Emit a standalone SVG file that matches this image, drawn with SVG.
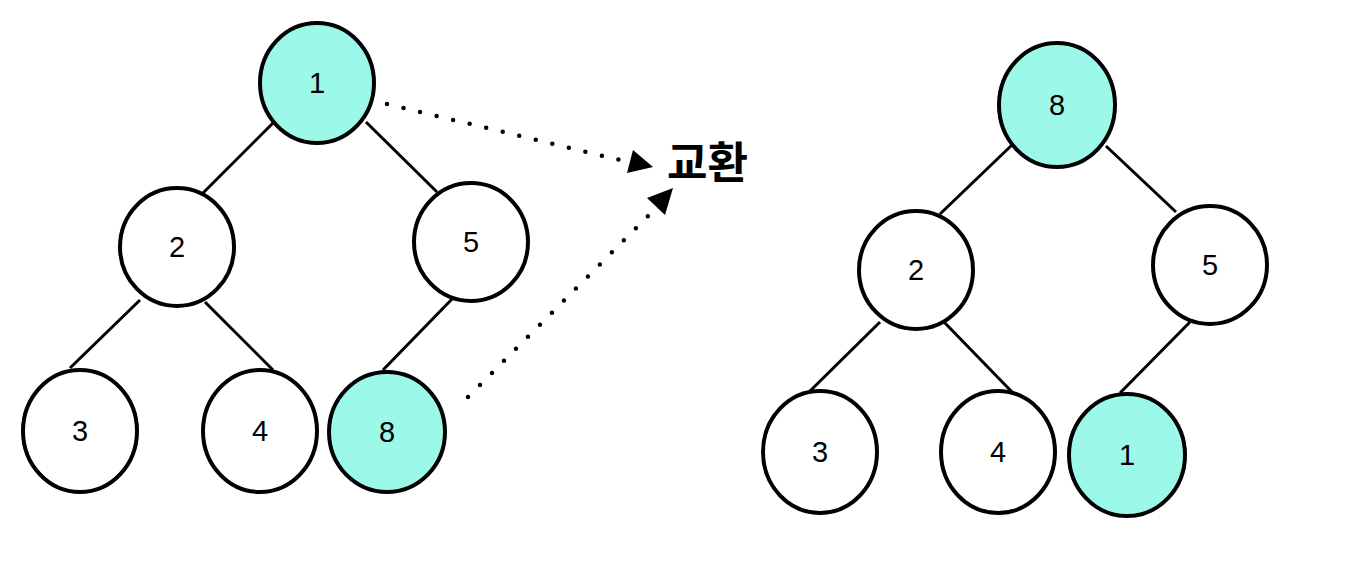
<svg xmlns="http://www.w3.org/2000/svg" width="1364" height="566" viewBox="0 0 1364 566">
<style>
.n{fill:#fff;stroke:#000;stroke-width:4}
.h{fill:#9cf8e8;stroke:#000;stroke-width:4}
.t{font-family:"Liberation Sans",Arial,sans-serif;font-size:29px;fill:#000;text-anchor:middle;dominant-baseline:central}
.e{stroke:#000;stroke-width:3;fill:none}
.d{stroke:#000;stroke-width:4.5;fill:none;stroke-linecap:round;stroke-dasharray:0 17}
.k{font-family:"Noto Sans CJK KR","Noto Sans CJK SC",sans-serif;font-size:44px;font-weight:bold;fill:#000}
</style>
<rect width="1364" height="566" fill="#fff"/>
<g id="connectors">
<line class="e" x1="275" y1="121" x2="202" y2="194"/>
<line class="e" x1="366" y1="122" x2="437" y2="192"/>
<line class="e" x1="140" y1="300" x2="70" y2="368"/>
<line class="e" x1="205" y1="302" x2="273" y2="370"/>
<line class="e" x1="453" y1="298" x2="383" y2="370"/>
<line class="e" x1="1013" y1="144" x2="940" y2="214"/>
<line class="e" x1="1106" y1="146" x2="1176" y2="212"/>
<line class="e" x1="880" y1="322" x2="810" y2="391"/>
<line class="e" x1="944" y1="322" x2="1013" y2="393"/>
<line class="e" x1="1190" y1="322" x2="1120" y2="393"/>
<path class="d" d="M387,104 L620,160"/>
<polygon points="633,150 653,167 627,173" fill="#000"/>
<path class="d" d="M468,397 L652,212"/>
<polygon points="647,198 673,188 665,215" fill="#000"/>
</g>
<g id="L1"><ellipse class="h" cx="317" cy="83" rx="57" ry="60"/><text class="t" x="317" y="83">1</text></g>
<g id="L2"><ellipse class="n" cx="177" cy="247" rx="57" ry="59"/><text class="t" x="177" y="247">2</text></g>
<g id="L5"><ellipse class="n" cx="471" cy="242" rx="57" ry="59"/><text class="t" x="471" y="242">5</text></g>
<g id="L3"><ellipse class="n" cx="80" cy="431" rx="57" ry="61"/><text class="t" x="80" y="431">3</text></g>
<g id="L4"><ellipse class="n" cx="260" cy="431" rx="57" ry="61"/><text class="t" x="260" y="431">4</text></g>
<g id="L8"><ellipse class="h" cx="387" cy="432" rx="58" ry="60"/><text class="t" x="387" y="432">8</text></g>
<g id="swap"><text class="k" x="667" y="179">교환</text></g>
<g id="R8"><ellipse class="h" cx="1057" cy="105" rx="58" ry="62"/><text class="t" x="1057" y="105">8</text></g>
<g id="R2"><ellipse class="n" cx="916" cy="270" rx="57" ry="59"/><text class="t" x="916" y="270">2</text></g>
<g id="R5"><ellipse class="n" cx="1210" cy="265" rx="57" ry="59"/><text class="t" x="1210" y="265">5</text></g>
<g id="R3"><ellipse class="n" cx="820" cy="452" rx="57" ry="61"/><text class="t" x="820" y="452">3</text></g>
<g id="R4"><ellipse class="n" cx="998" cy="452" rx="57" ry="61"/><text class="t" x="998" y="452">4</text></g>
<g id="R1"><ellipse class="h" cx="1127" cy="455" rx="58" ry="61"/><text class="t" x="1127" y="455">1</text></g>
</svg>
